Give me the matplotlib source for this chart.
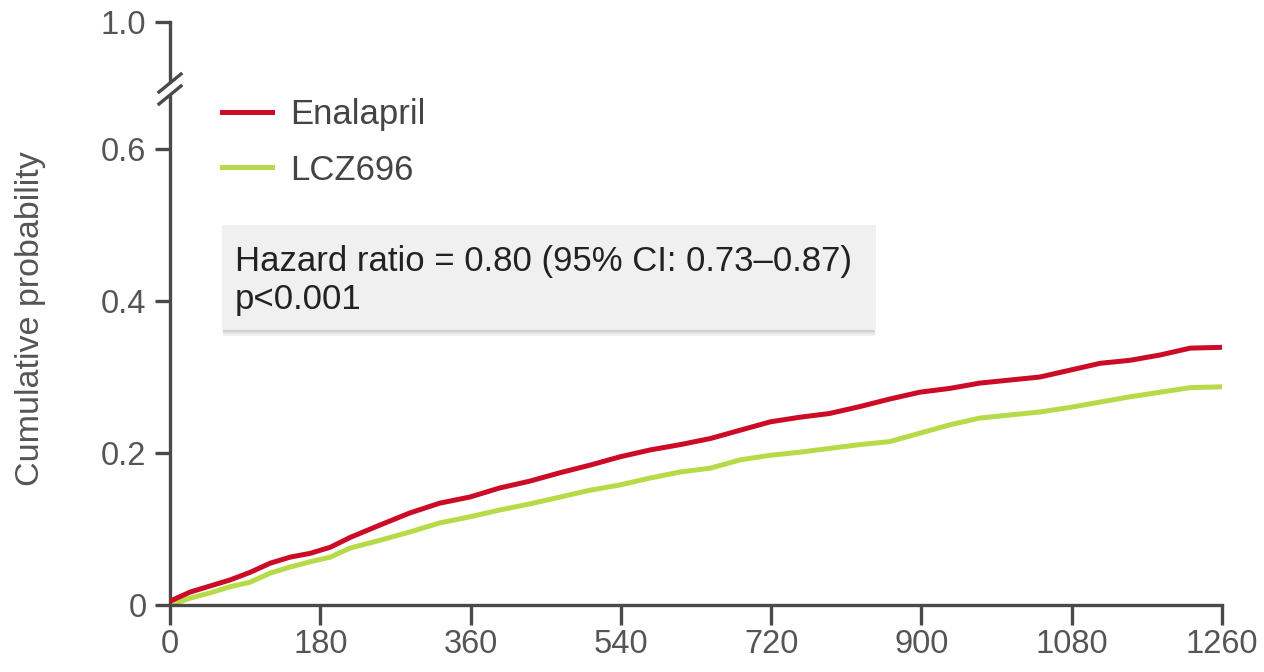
import matplotlib
matplotlib.use("Agg")
import matplotlib.pyplot as plt
from matplotlib.patches import Rectangle

plt.rcParams['font.family'] = ['Liberation Sans', 'DejaVu Sans']

# Kaplan-Meier style cumulative probability
days = [0, 24, 48, 72, 96, 120, 144, 168, 192, 216, 251, 287, 323, 359, 395,
        431, 467, 503, 539, 575, 611, 647, 683, 719, 754, 790, 826, 862, 898,
        934, 970, 1006, 1042, 1078, 1114, 1150, 1186, 1222, 1258]
enalapril = [0.005, 0.017, 0.025, 0.033, 0.043, 0.055, 0.063, 0.068, 0.076, 0.089,
             0.105, 0.121, 0.134, 0.142, 0.154, 0.163, 0.174, 0.184, 0.195, 0.204,
             0.211, 0.219, 0.230, 0.241, 0.247, 0.252, 0.261, 0.271, 0.280, 0.285,
             0.292, 0.296, 0.300, 0.309, 0.318, 0.322, 0.329, 0.338, 0.339]
lcz696 = [0.0, 0.009, 0.016, 0.024, 0.030, 0.042, 0.050, 0.057, 0.063, 0.075,
          0.085, 0.096, 0.108, 0.116, 0.125, 0.133, 0.142, 0.151, 0.158, 0.167,
          0.175, 0.180, 0.191, 0.197, 0.201, 0.206, 0.211, 0.215, 0.226, 0.237,
          0.246, 0.250, 0.254, 0.260, 0.267, 0.274, 0.280, 0.286, 0.287]

x_ticks = [0, 180, 360, 540, 720, 900, 1080, 1260]
y_ticks = [0, 0.2, 0.4, 0.6]
y_labels = ["0", "0.2", "0.4", "0.6"]

RED = '#cc0b27'
GREEN = '#b7db48'
AXC = '#4a4a4a'
TXT = '#555555'

W, H = 1264, 672
fig = plt.figure(figsize=(W / 100, H / 100), dpi=100)
# axis scale: 0..0.6 linear, top of spine shows "1.0" after a break
y_top = (605 - 22) / 760
ax = fig.add_axes([170 / W, 1 - 605 / H, (1222 - 170) / W, (605 - 22) / H])

ax.plot(days, enalapril, color=RED, lw=3.6, label="Enalapril", zorder=3)
ax.plot(days, lcz696, color=GREEN, lw=3.6, label="LCZ696", zorder=2)

ax.set_xlim(0, 1260)
ax.set_ylim(0, y_top)
ax.set_xticks(x_ticks)
ax.set_xticklabels([str(t) for t in x_ticks])
ax.set_yticks(y_ticks + [y_top])
ax.set_yticklabels(y_labels + ["1.0"])

for s in ['top', 'right']:
    ax.spines[s].set_visible(False)
for s in ['left', 'bottom']:
    ax.spines[s].set_color(AXC)
    ax.spines[s].set_linewidth(2.4)
ax.tick_params(axis='x', length=14.5, width=2.4, color=AXC, labelcolor=TXT,
               labelsize=23.5, pad=3)
ax.tick_params(axis='y', length=11, width=2.4, color=AXC, labelcolor=TXT,
               labelsize=23.5, pad=6)

ax.set_ylabel("Cumulative probability", fontsize=24.5, color=TXT)
ax.yaxis.set_label_coords(-0.118, 0.492)

# axis break marks on the y spine
tf = fig.transFigure
fig.patches.append(Rectangle((166 / W, 1 - 94 / H), 8 / W, 10 / H,
                             transform=tf, color='white', zorder=10))
for cy in (83, 95):
    fig.lines.append(plt.Line2D([(170 - 11) / W, (170 + 11) / W],
                                [1 - (cy + 9) / H, 1 - (cy - 9) / H],
                                transform=tf, color=AXC, lw=2.4, zorder=11))

# legend
leg = ax.legend(loc='upper left', bbox_to_anchor=(222 / W, 1 - 98 / H),
                bbox_transform=tf, frameon=False, borderpad=0, borderaxespad=0,
                fontsize=25, handlelength=1.45, handletextpad=0.52,
                labelspacing=0.65, labelcolor='#444444')

# hazard ratio box with soft shadow
x0, x1, y0, y1 = 222, 876, 225, 330
for k, a in enumerate([0.10, 0.14, 0.20]):
    off = 6 - 2 * k
    fig.patches.append(Rectangle(((x0 + 1) / W, 1 - (y1 + off) / H), (x1 - x0 - 2) / W,
                                 (y1 - y0) / H, transform=tf, color='#888888',
                                 alpha=a, lw=0, zorder=4))
fig.patches.append(Rectangle((x0 / W, 1 - y1 / H), (x1 - x0) / W, (y1 - y0) / H,
                             transform=tf, color='#f0f0f0', lw=0, zorder=5))
fig.text(235 / W, 1 - 262 / H, "Hazard ratio = 0.80 (95% CI: 0.73\u20130.87)",
         fontsize=25, color='#222222', va='center', ha='left', zorder=6)
fig.text(235 / W, 1 - 300 / H, "p<0.001",
         fontsize=25, color='#222222', va='center', ha='left', zorder=6)

fig.savefig("out.png", dpi=100)
